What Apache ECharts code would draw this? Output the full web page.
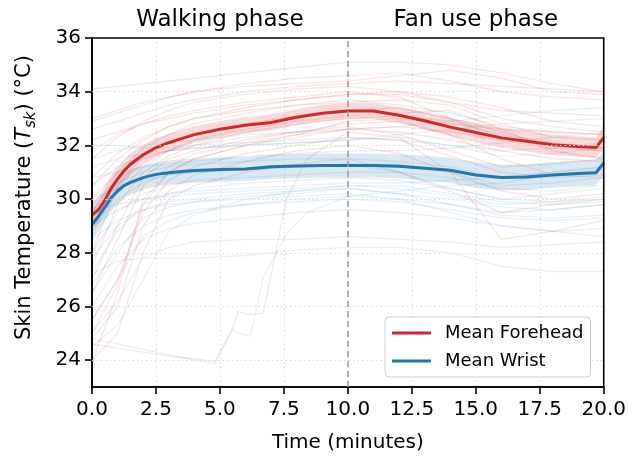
<!DOCTYPE html>
<html>
<head>
<meta charset="utf-8">
<script src="https://cdn.jsdelivr.net/npm/echarts@6/dist/echarts.min.js"></script>
<style>
html,body{margin:0;padding:0;background:#fff;}
#chart{width:629px;height:459px;}
</style>
</head>
<body>
<div id="chart"></div>
<script>
// ---- data ----
const tGrid = [0,0.25,0.5,0.75,1,1.25,1.5,2,2.5,3,3.5,4,5,6,7,8,9,10,11,12,13,14,15,16,17,18,19,19.7,20];
const foreheadMean = [29.4,29.6,29.95,30.4,30.75,31.05,31.3,31.65,31.92,32.1,32.25,32.4,32.6,32.75,32.85,33.05,33.2,33.28,33.28,33.12,32.92,32.68,32.48,32.28,32.15,32.02,31.96,31.92,32.3];
const wristMean = [29.05,29.35,29.7,30.05,30.3,30.5,30.62,30.8,30.92,30.98,31.03,31.06,31.1,31.12,31.2,31.23,31.25,31.25,31.25,31.22,31.15,31.07,30.9,30.8,30.82,30.9,30.95,30.98,31.35];
const foreheadSE = [0.5,0.5,0.5,0.48,0.45,0.42,0.4,0.37,0.35,0.33,0.32,0.31,0.3,0.3,0.3,0.3,0.3,0.3,0.3,0.3,0.32,0.34,0.36,0.37,0.38,0.38,0.38,0.38,0.38];
const wristSE = [0.55,0.55,0.53,0.5,0.48,0.47,0.46,0.45,0.45,0.45,0.45,0.45,0.45,0.45,0.45,0.45,0.45,0.45,0.45,0.45,0.46,0.47,0.48,0.48,0.48,0.48,0.48,0.48,0.48];

const tInd = [0,1,2,3,4,6,8,10,12,14,16,18,20];
const foreheadSubjects = [
  [34.1,34.2,34.3,34.4,34.5,34.7,34.9,35.1,35.1,35.0,34.7,34.3,34.0],
  [33.0,33.3,33.6,33.8,34.0,34.2,34.3,34.4,34.6,34.8,34.5,34.0,33.9],
  [32.9,33.2,33.5,33.8,34.0,34.3,34.5,34.6,34.7,34.4,34.0,33.8,33.7],
  [32.6,32.9,33.2,33.5,33.7,34.0,34.2,34.3,34.4,34.3,34.2,34.1,34.0],
  [32.2,32.5,32.8,33.0,33.2,33.5,33.7,33.9,33.9,33.6,33.3,33.2,33.1],
  [31.8,32.4,32.8,33.1,33.3,33.6,33.8,34.0,33.8,33.0,32.3,32.0,31.9],
  [31.5,32.3,32.9,33.3,33.6,33.9,34.1,34.2,34.0,33.6,33.0,32.7,32.5],
  [30.8,31.7,32.3,32.7,33.0,33.3,33.5,33.7,33.5,33.2,32.7,32.5,32.4],
  [30.5,31.5,32.2,32.7,33.0,33.4,33.7,33.9,34.0,33.8,33.4,32.9,32.7],
  [30.0,31.0,31.5,31.8,32.0,32.3,32.5,32.7,32.4,31.8,31.2,31.3,31.5],
  [29.5,31.0,31.9,32.4,32.8,33.2,33.5,33.6,33.7,33.5,32.8,32.3,32.2],
  [29.0,30.2,31.2,31.8,32.2,32.6,32.9,33.1,33.2,33.3,32.6,31.8,31.5],
  [28.0,30.5,31.6,32.1,32.4,32.8,33.1,33.3,33.4,33.0,32.5,32.0,31.8],
  [27.5,29.8,31.0,31.6,32.0,32.5,32.8,33.0,33.1,32.9,32.4,32.1,31.9],
  [27.0,29.0,30.8,31.5,31.8,32.2,32.5,32.8,32.9,32.4,31.5,30.9,30.8],
  [26.5,28.5,30.5,31.2,31.7,32.1,32.4,32.6,32.5,32.2,31.8,31.5,31.4],
  [25.5,27.0,29.5,30.7,31.2,31.7,32.0,32.3,32.2,31.6,31.0,30.8,30.9],
  [25.0,26.8,29.8,31.0,31.5,32.0,32.4,32.9,33.0,32.8,32.6,32.5,32.4],
  [24.8,26.0,29.0,30.3,30.9,31.4,31.8,32.0,31.7,31.0,30.3,30.0,30.2],
  [24.0,25.0,28.0,30.0,30.5,31.0,31.3,31.5,31.0,30.3,29.5,29.8,30.0],
  [23.9,26.5,30.0,31.0,31.5,32.0,32.3,32.6,32.7,32.5,32.2,31.9,31.8]
];
const wristSubjects = [
  [31.5,31.8,32.0,32.1,32.2,32.4,32.5,32.6,32.7,32.9,33.1,33.3,33.4],
  [31.2,31.5,31.7,31.8,31.9,32.0,32.1,32.2,32.4,32.6,32.8,32.9,33.0],
  [32.0,32.0,31.9,31.9,32.0,32.1,32.2,32.3,32.2,32.0,31.8,31.9,32.1],
  [30.5,31.2,31.6,31.8,31.9,32.0,32.1,32.2,32.3,32.0,31.6,31.7,31.9],
  [30.8,31.0,31.2,31.3,31.4,31.6,31.7,31.8,31.8,31.9,32.1,32.3,32.5],
  [29.8,30.6,31.0,31.2,31.3,31.4,31.5,31.5,31.4,31.2,30.8,31.0,31.2],
  [30.0,30.4,30.7,30.9,31.0,31.1,31.2,31.3,31.0,30.4,30.0,29.9,30.0],
  [28.8,30.0,30.6,30.9,31.0,31.1,31.2,31.3,31.3,31.0,30.5,30.6,30.8],
  [29.0,29.6,30.0,30.2,30.3,30.4,30.5,30.6,30.6,30.7,30.8,31.0,31.2],
  [28.0,29.5,30.2,30.5,30.7,30.8,30.9,31.0,31.0,30.8,30.4,30.3,30.5],
  [27.3,28.8,29.8,30.2,30.4,30.6,30.7,30.8,30.7,30.4,30.0,30.2,30.4],
  [29.6,29.8,30.0,30.1,30.2,30.3,30.4,30.5,30.5,30.2,29.9,29.8,29.9],
  [27.8,29.0,29.6,29.9,30.0,30.2,30.3,30.4,30.2,29.8,29.4,29.3,29.4],
  [28.5,29.2,29.6,29.8,29.9,30.0,30.1,30.2,30.0,29.5,29.0,28.8,28.6],
  [26.8,28.2,29.0,29.4,29.6,29.8,30.0,30.1,30.3,30.5,30.6,30.9,31.1],
  [26.5,28.0,29.3,29.7,29.9,30.1,30.2,30.4,30.2,30.0,29.7,29.6,29.8],
  [25.5,27.0,28.6,29.2,29.5,29.8,29.9,30.0,29.9,29.6,29.3,29.2,29.3],
  [26.0,27.5,28.5,28.9,29.1,29.3,29.5,29.6,29.5,29.3,29.0,28.8,28.9],
  [25.0,26.2,27.8,28.2,28.4,28.5,28.5,28.6,28.5,28.4,28.2,28.3,28.4],
  [27.2,27.7,27.8,27.8,27.8,27.9,28.1,28.2,28.2,28.0,27.5,27.3,27.3],
  [24.5,25.3,27.0,28.8,29.4,30.0,30.3,30.5,30.4,30.1,29.8,29.9,30.1]
];
const lateTime = [0,1,2,3,4,4.8,5.5,5.7,6.2,6.7,7.6,8.4,10,12,14,16,18,20];
const lateForehead = [24.6,24.45,24.3,24.15,24.05,23.95,25.2,25.8,25.7,25.75,30.0,31.5,32.5,32.3,31.0,28.5,28.8,29.2];
const lateWrist = [24.8,24.6,24.4,24.2,24.0,23.85,25.15,25.0,24.9,27.1,28.7,29.5,30.1,30.0,29.8,29.5,29.6,29.8];

const yTicks = [24,26,28,30,32,34,36];
const phaseBoundary = 10;
const phases = [
  {name:'Walking phase', from:0, to:10},
  {name:'Fan use phase', from:10, to:20}
];

// ---- style ----
const RED = '#d62728', BLUE = '#1f77b4';
const FONT = 'DejaVu Sans';
const Y_MAX = 36;
const zip = (xs, ys) => xs.map((x, i) => [x, ys[i]]);

const series = [];
series.push({
  type:'line', data:[], z:0, silent:true,
  markLine:{silent:true, symbol:['none','none'], label:{show:false},
    lineStyle:{color:'#d8d8d8', type:[1.5,3], width:1},
    data: yTicks.filter(v => v < Y_MAX).map(v => ({yAxis:v}))}
});
foreheadSubjects.forEach(s => series.push({
  type:'line', data:zip(tInd, s), symbol:'none', silent:true, z:1,
  lineStyle:{color:RED, width:1.4, opacity:0.12}
}));
series.push({type:'line', data:zip(lateTime, lateForehead), symbol:'none', silent:true, z:1,
  lineStyle:{color:RED, width:1.4, opacity:0.12}});
wristSubjects.forEach(s => series.push({
  type:'line', data:zip(tInd, s), symbol:'none', silent:true, z:1,
  lineStyle:{color:BLUE, width:1.4, opacity:0.1}
}));
series.push({type:'line', data:zip(lateTime, lateWrist), symbol:'none', silent:true, z:1,
  lineStyle:{color:BLUE, width:1.4, opacity:0.1}});

function band(mean, se, color){
  return {
    type:'custom', coordinateSystem:'cartesian2d', silent:true, z:2,
    data:[[tGrid[0], mean[0]]], encode:{x:0, y:1},
    renderItem:(params, api) => {
      const pts = [];
      for (let i = 0; i < tGrid.length; i++) pts.push(api.coord([tGrid[i], mean[i] + se[i]]));
      for (let i = tGrid.length - 1; i >= 0; i--) pts.push(api.coord([tGrid[i], mean[i] - se[i]]));
      return {type:'polygon', shape:{points:pts}, style:{fill:color, opacity:0.17}};
    }
  };
}
series.push(band(foreheadMean, foreheadSE, RED));
series.push(band(wristMean, wristSE, BLUE));

series.push({
  type:'line', data:[], z:2, silent:true,
  markLine:{silent:true, symbol:['none','none'], label:{show:false},
    lineStyle:{color:'#a0a0a0', type:[6,4], width:1.6},
    data:[{xAxis:phaseBoundary}]},
  markArea:{silent:true, itemStyle:{color:'rgba(0,0,0,0)'},
    label:{show:true, position:'top', distance:6, fontFamily:FONT, fontSize:23, color:'#000'},
    data: phases.map(p => [{name:p.name, xAxis:p.from}, {xAxis:p.to}])}
});

series.push({name:'Mean Forehead', type:'line', data:zip(tGrid, foreheadMean), symbol:'none', z:3,
  lineStyle:{color:RED, width:3}, itemStyle:{color:RED}});
series.push({name:'Mean Wrist', type:'line', data:zip(tGrid, wristMean), symbol:'none', z:3,
  lineStyle:{color:BLUE, width:3}, itemStyle:{color:BLUE}});

const chart = echarts.init(document.getElementById('chart'), null, {renderer:'canvas'});
chart.setOption({
  animation:false,
  backgroundColor:'#fff',
  textStyle:{fontFamily:FONT},
  grid:{left:92, right:25, top:38, bottom:72, show:true, borderColor:'#000', borderWidth:1.6, backgroundColor:'transparent', z:5},
  legend:{
    data:['Mean Forehead','Mean Wrist'], orient:'vertical', left:385, top:317, z:10,
    itemWidth:39, itemHeight:14, itemGap:10, padding:[7,7,7,7],
    backgroundColor:'rgba(255,255,255,0.92)', borderColor:'#cccccc', borderWidth:1, borderRadius:4,
    textStyle:{fontFamily:FONT, fontSize:18, color:'#000', padding:[0,0,0,9]},
    icon:'path://M0,5.5 L40,5.5 L40,8.5 L0,8.5 Z'
  },
  xAxis:{
    type:'value', min:0, max:20, interval:2.5,
    name:'Time (minutes)', nameLocation:'middle', nameGap:46,
    nameTextStyle:{fontFamily:FONT, fontSize:20, color:'#000'},
    axisLine:{show:true, onZero:false, lineStyle:{color:'#000', width:1.6}},
    axisTick:{show:true, length:7, lineStyle:{color:'#000', width:1.6}},
    axisLabel:{fontFamily:FONT, fontSize:20, color:'#000', margin:13, formatter:v => v.toFixed(1)},
    splitLine:{show:true, showMinLine:false, showMaxLine:false, lineStyle:{color:'#d8d8d8', type:[1.5,3], width:1}}
  },
  yAxis:{
    type:'value', min:23, max:Y_MAX,
    name:'{a|Skin Temperature (}{i|T}{s|sk}{a|) (°C)}', nameLocation:'middle', nameGap:53,
    nameTextStyle:{fontFamily:FONT, fontSize:21, color:'#000', padding:[0,0,0,30],
      rich:{
        a:{fontFamily:FONT, fontSize:21, color:'#000', verticalAlign:'bottom', lineHeight:21, padding:[0,0,4,0]},
        i:{fontFamily:FONT, fontSize:21, color:'#000', fontStyle:'italic', verticalAlign:'bottom', lineHeight:21, padding:[0,0,4,0]},
        s:{fontFamily:FONT, fontSize:15, color:'#000', fontStyle:'italic', verticalAlign:'bottom', lineHeight:15}
      }},
    axisLine:{show:true, onZero:false, lineStyle:{color:'#000', width:1.6}},
    axisTick:{show:true, length:7, customValues:yTicks, lineStyle:{color:'#000', width:1.6}},
    axisLabel:{fontFamily:FONT, fontSize:20, color:'#000', margin:11, customValues:yTicks},
    splitLine:{show:false}
  },
  series:series
});
</script>
</body>
</html>
